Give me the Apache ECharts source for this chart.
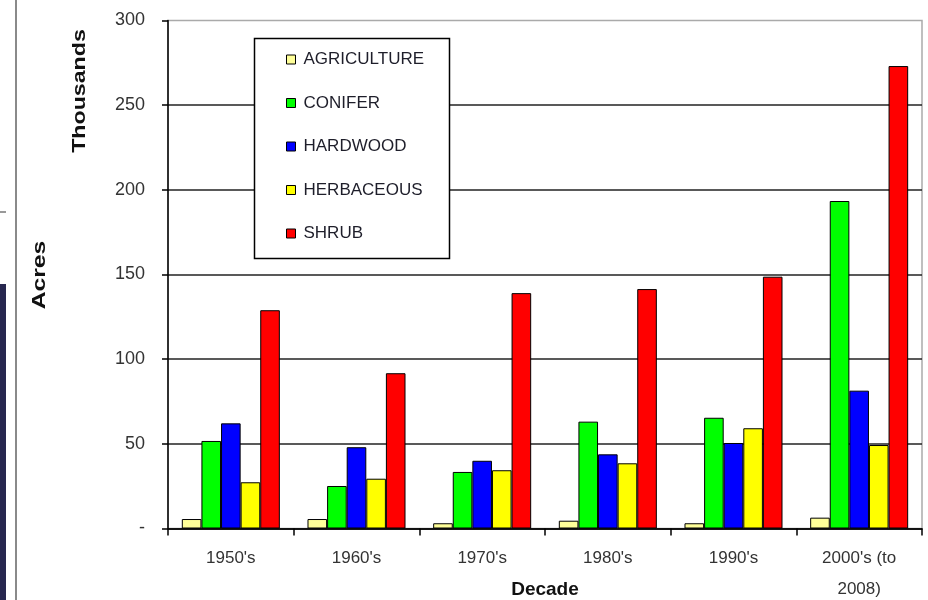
<!DOCTYPE html>
<html>
<head>
<meta charset="utf-8">
<script src="https://cdn.jsdelivr.net/npm/echarts@6/dist/echarts.min.js"></script>
<style>
  html, body { margin: 0; padding: 0; background: #fff; }
  #chart { width: 928px; height: 600px; }
</style>
</head>
<body>
<div id="chart"></div>
<script>
// Acres burned by vegetation type, per decade (thousands of acres)
const decades = ["1950's", "1960's", "1970's", "1980's", "1990's", "2000's (to\n2008)"];
const agriculture = [5.6, 5.6, 3.1, 4.6, 3.1, 6.4];
const conifer = [51.7, 25.1, 33.4, 63.1, 65.4, 193.4];
const hardwood = [62.1, 48.0, 40.0, 43.8, 50.5, 81.4];
const herbaceous = [27.3, 29.4, 34.4, 38.5, 59.2, 49.3];
const shrub = [128.9, 91.7, 139.0, 141.4, 148.7, 273.1];
const yTicks = { min: 0, max: 300, step: 50 };

const FONT = '"Liberation Sans", Arial, sans-serif';

const seriesDefs = [
  { name: 'AGRICULTURE', data: agriculture, color: '#FFFF99' },
  { name: 'CONIFER', data: conifer, color: '#00FF00' },
  { name: 'HARDWOOD', data: hardwood, color: '#0000FF' },
  { name: 'HERBACEOUS', data: herbaceous, color: '#FFFF00' },
  { name: 'SHRUB', data: shrub, color: '#FF0000' }
];

const chart = echarts.init(document.getElementById('chart'), null, { renderer: 'canvas' });

chart.setOption({
  animation: false,
  backgroundColor: '#fff',
  textStyle: { fontFamily: FONT },
  grid: {
    left: 168, right: 6, top: 20.5, bottom: 71.5,
    outerBoundsMode: 'none',
    containLabel: false,
    show: true, borderColor: '#aaa', borderWidth: 1.5, backgroundColor: 'transparent'
  },
  legend: {
    orient: 'vertical',
    left: 281, top: 46,
    icon: 'rect',
    itemWidth: 9, itemHeight: 9,
    itemGap: 26.5,
    selectedMode: false,
    z: 5,
    itemStyle: { borderColor: '#000', borderWidth: 1 },
    textStyle: { fontFamily: FONT, fontSize: 17, lineHeight: 17, color: '#1e1e2a', padding: [0, 0, 0, 3] }
  },
  xAxis: {
    type: 'category',
    data: decades,
    boundaryGap: true,
    axisLine: { show: true, lineStyle: { color: '#000', width: 1.5 } },
    axisTick: { show: true, length: 7, lineStyle: { color: '#000', width: 1.5 } },
    axisLabel: { fontFamily: FONT, fontSize: 17, color: '#333', margin: 14, lineHeight: 31 },
    splitLine: { show: false }
  },
  yAxis: {
    type: 'value',
    min: yTicks.min, max: yTicks.max, interval: yTicks.step,
    axisLine: { show: true, lineStyle: { color: '#000', width: 1.5 } },
    axisTick: { show: true, length: 6, lineStyle: { color: '#000', width: 1.5 } },
    axisLabel: {
      fontFamily: FONT, fontSize: 18, color: '#333', margin: 23,
      formatter: v => (v === 0 ? '-' : String(v))
    },
    splitLine: { show: true, showMaxLine: false, lineStyle: { color: '#222', width: 1.5 } }
  },
  series: seriesDefs.map(s => ({
    name: s.name,
    type: 'bar',
    data: s.data,
    barGap: '0%',
    barCategoryGap: '22%',
    itemStyle: { color: s.color, borderColor: '#000', borderWidth: 1 },
    emphasis: { disabled: true }
  })),
  graphic: [
    // legend frame
    { type: 'rect', z: 3, shape: { x: 254.5, y: 38.5, width: 195, height: 220 },
      style: { fill: '#fff', stroke: '#000', lineWidth: 1.5 } },
    // slide edge decorations
    { type: 'rect', z: 1, shape: { x: 0, y: 284, width: 6, height: 316 }, style: { fill: '#27274f' } },
    { type: 'line', z: 1, shape: { x1: 16, y1: 0, x2: 16, y2: 600 }, style: { stroke: '#8a8a8a', lineWidth: 2 } },
    { type: 'line', z: 1, shape: { x1: 0, y1: 212, x2: 6, y2: 212 }, style: { stroke: '#999', lineWidth: 2 } },
    // axis titles
    { type: 'text', z: 5, x: 40, y: 275, rotation: Math.PI / 2, scaleX: 1.3,
      style: { text: 'Acres', font: 'bold 19px ' + FONT, fill: '#111', textAlign: 'center', textVerticalAlign: 'middle' } },
    { type: 'text', z: 5, x: 80, y: 91, rotation: Math.PI / 2, scaleX: 1.22,
      style: { text: 'Thousands', font: 'bold 19px ' + FONT, fill: '#111', textAlign: 'center', textVerticalAlign: 'middle' } },
    { type: 'text', z: 5, x: 545, y: 590,
      style: { text: 'Decade', font: 'bold 19px ' + FONT, fill: '#111', textAlign: 'center', textVerticalAlign: 'middle' } }
  ]
});
</script>
</body>
</html>
